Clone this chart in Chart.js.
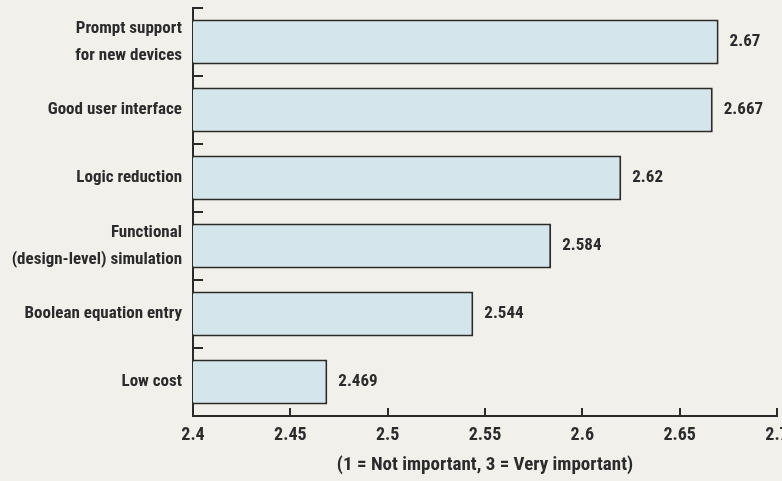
<!DOCTYPE html>
<html>
<head>
<meta charset="utf-8">
<script src="https://cdn.jsdelivr.net/npm/chart.js@4"></script>
<style>
  html, body { margin: 0; padding: 0; background: #f2f0eb; overflow: hidden; }
  #wrap { position: relative; width: 782px; height: 481px; }
</style>
</head>
<body>
<div id="wrap"><canvas id="featChart"></canvas></div>
<script>
// Survey features, top to bottom
const features = [
  ["Prompt support", "for new devices"],
  "Good user interface",
  "Logic reduction",
  ["Functional", "(design-level) simulation"],
  "Boolean equation entry",
  "Low cost",
];
// Average rating for each feature
const ratings = [2.67, 2.667, 2.62, 2.584, 2.544, 2.469];
// Value printed next to each bar
const ratingLabels = ["2.67", "2.667", "2.62", "2.584", "2.544", "2.469"];
const xTickLabels = ["2.4", "2.45", "2.5", "2.55", "2.6", "2.65", "2.7"];
const axisTitle = "(1 = Not important, 3 = Very important)";

const ink = "#2b2b2b";
const fontFamily = "Roboto, 'DejaVu Sans Condensed', sans-serif";
// "condensed" rides along in the weight slot so the canvas picks the narrow face
const labelFont = { family: fontFamily, size: 17, weight: "bold condensed" };

// writes the value to the right of every bar
const valueLabels = {
  id: "valueLabels",
  afterDatasetsDraw(chart) {
    const ctx = chart.ctx;
    const meta = chart.getDatasetMeta(0);
    ctx.save();
    ctx.fillStyle = ink;
    ctx.font = "bold condensed 17px " + fontFamily;
    ctx.textAlign = "left";
    ctx.textBaseline = "middle";
    meta.data.forEach((bar, i) => {
      ctx.fillText(ratingLabels[i], bar.x + 11, bar.y);
    });
    ctx.restore();
  },
};

const ctx = document.getElementById("featChart").getContext("2d");

new Chart(ctx, {
  type: "bar",
  data: {
    labels: features,
    datasets: [
      {
        data: ratings,
        backgroundColor: "#d4e5eb",
        borderColor: ink,
        borderWidth: 2,
        borderSkipped: false,
        barPercentage: 0.66,
        categoryPercentage: 1,
      },
    ],
  },
  options: {
    indexAxis: "y",
    responsive: true,
    maintainAspectRatio: false,
    animation: false,
    layout: { padding: { top: 8, right: 5, left: 0, bottom: 0 } },
    plugins: {
      legend: { display: false },
      tooltip: { enabled: false },
    },
    scales: {
      x: {
        min: 2.4,
        max: 2.7,
        ticks: {
          stepSize: 0.05,
          padding: 17,
          color: ink,
          font: { family: fontFamily, size: 18, weight: "bold condensed" },
          maxRotation: 0,
          autoSkip: false,
          callback: (value, index) => xTickLabels[index],
        },
        grid: { drawOnChartArea: false, tickLength: -8, color: ink, lineWidth: 2 },
        border: { color: ink, width: 2 },
        title: {
          display: true,
          text: axisTitle,
          color: ink,
          font: { family: fontFamily, size: 19, weight: "bold condensed" },
          padding: { top: 0, bottom: 4 },
        },
        afterFit(scale) {
          scale.height = 65;
          scale.paddingLeft = 0;
          scale.paddingRight = 0;
        },
      },
      y: {
        ticks: {
          padding: 21,
          color: ink,
          font: { family: fontFamily, size: 17, weight: "bold condensed", lineHeight: 1.6 },
          autoSkip: false,
        },
        grid: { drawOnChartArea: false, tickLength: -10, color: ink, lineWidth: 2, offset: true },
        border: { color: ink, width: 2 },
        afterFit(scale) {
          scale.width = 193;
          scale.paddingTop = 0;
          scale.paddingBottom = 0;
        },
      },
    },
  },
  plugins: [valueLabels],
});
</script>
</body>
</html>
